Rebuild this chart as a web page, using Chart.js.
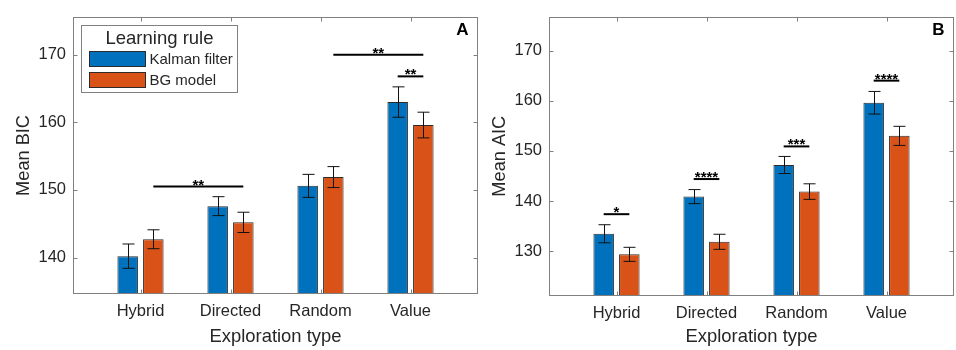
<!DOCTYPE html>
<html>
<head>
<meta charset="utf-8">
<script src="https://cdn.jsdelivr.net/npm/chart.js@4"></script>
<style>
  html, body { margin: 0; padding: 0; background: #fff; }
  #wrap { position: relative; width: 956px; height: 350px; }
  .panel { position: absolute; top: 0; width: 480px; height: 350px; }
</style>
</head>
<body>
<div id="wrap">
  <div class="panel" style="left:0"><canvas id="chartA"></canvas></div>
  <div class="panel" style="left:476px"><canvas id="chartB"></canvas></div>
</div>
<script>
const categories = ['Hybrid', 'Directed', 'Random', 'Value'];
const seriesNames = ['Kalman filter', 'BG model'];
const seriesColors = ['#0072BD', '#D95319'];

// panel A - BIC
const bicKalman = [140.2, 147.6, 150.6, 163.0];
const bicBG = [142.7, 145.2, 151.9, 159.6];
const bicKalmanErr = [1.8, 1.4, 1.7, 2.25];
const bicBGErr = [1.4, 1.5, 1.55, 1.9];
const bicTicks = [140, 150, 160, 170];

// panel B - AIC
const aicKalman = [133.5, 140.9, 147.2, 159.6];
const aicBG = [129.4, 131.9, 141.9, 153.0];
const aicKalmanErr = [1.8, 1.4, 1.7, 2.25];
const aicBGErr = [1.4, 1.5, 1.55, 1.9];
const aicTicks = [130, 140, 150, 160, 170];

// significance: [series, category] -> [series, category], bracket height, stars
const bicSig = [
    { from: [1, 0], to: [1, 1], y: 150.5, label: '**' },
    { from: [1, 2], to: [1, 3], y: 170, label: '**' },
    { from: [0, 3], to: [1, 3], y: 166.8, label: '**' }
];
const aicSig = [
    { from: [0, 0], to: [1, 0], y: 137.4, label: '*' },
    { from: [0, 1], to: [1, 1], y: 144.4, label: '****' },
    { from: [0, 2], to: [1, 2], y: 150.9, label: '***' },
    { from: [0, 3], to: [1, 3], y: 164.0, label: '****' }
];

const FONT = '"Liberation Sans", Arial, Helvetica, sans-serif';
const TEXT = '#262626';
const AXIS = '#808080';

// dibuja ejes tipo matlab, barras de error, corchetes, leyenda y letra del panel
const extrasPlugin = {
    id: 'extras',
    afterDatasetsDraw(chart, args, opts) {
        const { ctx, chartArea: a, scales: { x, y } } = chart;
        ctx.save();

        // barras de error
        ctx.strokeStyle = '#111';
        ctx.lineWidth = 1;
        chart.data.datasets.forEach((ds, di) => {
            chart.getDatasetMeta(di).data.forEach((bar, i) => {
                const v = ds.data[i].y, e = ds.errors[i];
                const t = y.getPixelForValue(v + e), b = y.getPixelForValue(v - e);
                const cx = Math.round(bar.x) + 0.5;
                ctx.beginPath();
                ctx.moveTo(cx, t); ctx.lineTo(cx, b);
                ctx.moveTo(cx - 6, t); ctx.lineTo(cx + 6, t);
                ctx.moveTo(cx - 6, b); ctx.lineTo(cx + 6, b);
                ctx.stroke();
            });
        });

        // corchetes de significancia
        opts.sig.forEach(s => {
            const x1 = chart.getDatasetMeta(s.from[0]).data[s.from[1]].x;
            const x2 = chart.getDatasetMeta(s.to[0]).data[s.to[1]].x;
            const py = y.getPixelForValue(s.y);
            ctx.strokeStyle = '#000';
            ctx.lineWidth = 2;
            ctx.beginPath();
            ctx.moveTo(x1, py); ctx.lineTo(x2, py);
            ctx.stroke();
            ctx.fillStyle = '#000';
            ctx.font = 'bold 15px ' + FONT;
            ctx.textAlign = 'center';
            ctx.textBaseline = 'alphabetic';
            ctx.fillText(s.label, (x1 + x2) / 2, py + 3);
        });

        // caja y marcas hacia adentro
        ctx.strokeStyle = AXIS;
        ctx.lineWidth = 1;
        const L = Math.round(a.left) + 0.5, R = Math.round(a.right) - 0.5;
        const T = Math.round(a.top) + 0.5, B = Math.round(a.bottom) - 0.5;
        ctx.strokeRect(L, T, R - L, B - T);
        ctx.beginPath();
        y.ticks.forEach(t => {
            const py = Math.round(y.getPixelForValue(t.value)) + 0.5;
            ctx.moveTo(L, py); ctx.lineTo(L + 4, py);
            ctx.moveTo(R, py); ctx.lineTo(R - 4, py);
        });
        x.ticks.forEach(t => {
            const px = Math.round(x.getPixelForValue(t.value)) + 0.5;
            ctx.moveTo(px, B); ctx.lineTo(px, B - 4);
            ctx.moveTo(px, T); ctx.lineTo(px, T + 4);
        });
        ctx.stroke();

        // leyenda
        if (opts.legend) {
            const bx = Math.round(a.left) + 8.5, by = Math.round(a.top) + 8.5;
            const bw = 156, bh = 67;
            ctx.fillStyle = '#fff';
            ctx.fillRect(bx, by, bw, bh);
            ctx.strokeStyle = AXIS;
            ctx.strokeRect(bx, by, bw, bh);
            ctx.fillStyle = TEXT;
            ctx.font = '18.5px ' + FONT;
            ctx.textAlign = 'center';
            ctx.textBaseline = 'alphabetic';
            ctx.fillText(opts.legendTitle, bx + bw / 2, by + 18);
            chart.data.datasets.forEach((ds, di) => {
                const sy = by + 26 + di * 21;
                ctx.fillStyle = ds.backgroundColor;
                ctx.fillRect(bx + 8, sy, 56, 15);
                ctx.strokeStyle = '#2b2b2b';
                ctx.strokeRect(bx + 8, sy, 56, 15);
                ctx.fillStyle = TEXT;
                ctx.font = '15px ' + FONT;
                ctx.textAlign = 'left';
                ctx.textBaseline = 'middle';
                ctx.fillText(ds.label, bx + 68, sy + 8);
            });
        }

        // letra del panel
        ctx.fillStyle = '#000';
        ctx.font = 'bold 17px ' + FONT;
        ctx.textAlign = 'center';
        ctx.textBaseline = 'middle';
        ctx.fillText(opts.letter, a.right - 15.5, a.top + 13);

        ctx.restore();
    }
};

function crearPanel(id, kalman, bg, kalmanErr, bgErr, ticks, yMin, yMax, yTitle, sig, letter, legend, xHeight) {
    const ctx = document.getElementById(id).getContext('2d');
    return new Chart(ctx, {
        type: 'bar',
        data: {
            datasets: [
                {
                    label: seriesNames[0],
                    data: kalman.map((v, i) => ({ x: i + 1, y: v })),
                    errors: kalmanErr,
                    backgroundColor: seriesColors[0],
                    borderColor: '#2b2b2b',
                    borderWidth: 1
                },
                {
                    label: seriesNames[1],
                    data: bg.map((v, i) => ({ x: i + 1, y: v })),
                    errors: bgErr,
                    backgroundColor: seriesColors[1],
                    borderColor: '#2b2b2b',
                    borderWidth: 1
                }
            ]
        },
        options: {
            responsive: true,
            maintainAspectRatio: false,
            animation: false,
            categoryPercentage: 0.57,
            barPercentage: 0.8,
            layout: { padding: { top: 7, right: 2, left: 0, bottom: 0 } },
            plugins: {
                legend: { display: false },
                tooltip: { enabled: false },
                extras: { sig: sig, letter: letter, legend: legend, legendTitle: 'Learning rule' }
            },
            scales: {
                x: {
                    type: 'linear',
                    offset: false,
                    min: 0.25,
                    max: 4.75,
                    grid: { display: false, drawTicks: false, offset: false },
                    border: { display: false },
                    afterBuildTicks: s => { s.ticks = categories.map((_, i) => ({ value: i + 1 })); },
                    afterFit: s => { s.height = xHeight; },
                    ticks: {
                        autoSkip: false,
                        maxRotation: 0,
                        padding: 8,
                        color: TEXT,
                        font: { family: FONT, size: 16.5 },
                        callback: v => categories[v - 1]
                    },
                    title: {
                        display: true,
                        text: 'Exploration type',
                        color: TEXT,
                        font: { family: FONT, size: 18.4 },
                        padding: { top: 0, bottom: 2.5 }
                    }
                },
                y: {
                    min: yMin,
                    max: yMax,
                    grid: { display: false, drawTicks: false },
                    border: { display: false },
                    afterBuildTicks: s => { s.ticks = ticks.map(v => ({ value: v })); },
                    afterFit: s => { s.width = 73; },
                    ticks: {
                        padding: 7,
                        color: TEXT,
                        font: { family: FONT, size: 16.5 }
                    },
                    title: {
                        display: true,
                        text: yTitle,
                        color: TEXT,
                        font: { family: FONT, size: 18.2 },
                        padding: { top: 13.5, bottom: 0 }
                    }
                }
            }
        },
        plugins: [extrasPlugin]
    });
}

crearPanel('chartA', bicKalman, bicBG, bicKalmanErr, bicBGErr, bicTicks, 134.6, 175.6, 'Mean BIC', bicSig, 'A', true, 56);
crearPanel('chartB', aicKalman, aicBG, aicKalmanErr, aicBGErr, aicTicks, 121.2, 176.7, 'Mean AIC', aicSig, 'B', false, 54.5);
</script>
</body>
</html>
